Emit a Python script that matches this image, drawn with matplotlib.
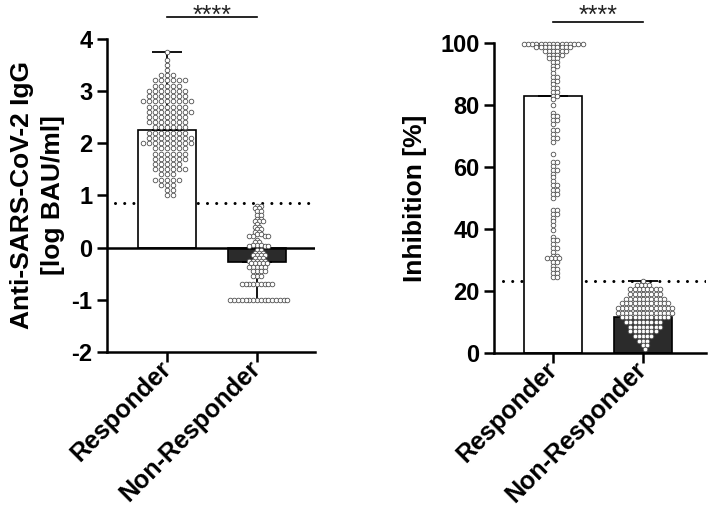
import matplotlib
matplotlib.use("Agg")
import matplotlib.pyplot as plt
import numpy as np

plt.rcParams['font.family'] = ['Liberation Sans', 'DejaVu Sans']
plt.rcParams['axes.unicode_minus'] = False

groups = ["Responder", "Non-Responder"]

# left panel - anti-SARS-CoV-2 IgG [log BAU/ml]
igg_resp = [3.75, 3.60, 3.50, 3.40,
            3.30, 3.30, 3.30,
            3.20, 3.20, 3.20, 3.20, 3.20, 3.20,
            3.10, 3.10, 3.10, 3.10, 3.10,
            3.00, 3.00, 3.00, 3.00, 3.00, 3.00, 3.00,
            2.90, 2.90, 2.90, 2.90, 2.90, 2.90, 2.90,
            2.80, 2.80, 2.80, 2.80, 2.80, 2.80, 2.80, 2.80, 2.80,
            2.70, 2.70, 2.70, 2.70, 2.70, 2.70, 2.70,
            2.60, 2.60, 2.60, 2.60, 2.60, 2.60, 2.60, 2.60,
            2.50, 2.50, 2.50, 2.50, 2.50, 2.50, 2.50,
            2.40, 2.40, 2.40, 2.40, 2.40, 2.40, 2.40,
            2.30, 2.30, 2.30, 2.30, 2.30, 2.30,
            2.20, 2.20, 2.20, 2.20, 2.20, 2.20, 2.20,
            2.10, 2.10, 2.10, 2.10, 2.10, 2.10, 2.10, 2.10,
            2.00, 2.00, 2.00, 2.00, 2.00, 2.00, 2.00, 2.00, 2.00,
            1.90, 1.90, 1.90, 1.90, 1.90, 1.90,
            1.80, 1.80, 1.80, 1.80, 1.80, 1.80,
            1.70, 1.70, 1.70, 1.70, 1.70, 1.70,
            1.60, 1.60, 1.60, 1.60, 1.60,
            1.50, 1.50, 1.50, 1.50, 1.50, 1.50,
            1.40, 1.40, 1.40,
            1.30, 1.30, 1.30, 1.30, 1.30,
            1.20, 1.20, 1.20,
            1.10, 1.10,
            1.00, 1.00]
igg_nonresp = [0.80, 0.80, 0.75, 0.75, 0.70, 0.70, 0.62, 0.62, 0.55, 0.55,
               0.50, 0.50, 0.50, 0.45, 0.40, 0.40, 0.35, 0.35, 0.30, 0.30,
               0.25, 0.25, 0.22, 0.22, 0.22, 0.22, 0.15, 0.10, 0.10,
               0.05, 0.05, 0.05, 0.02, 0.02, 0.02,
               -0.05, -0.05, -0.10, -0.10, -0.10, -0.15, -0.15, -0.15, -0.15,
               -0.20, -0.20, -0.20, -0.25, -0.25, -0.25, -0.25, -0.25,
               -0.30, -0.30, -0.30, -0.30, -0.30,
               -0.38, -0.38, -0.38, -0.38, -0.38,
               -0.45, -0.45, -0.45, -0.45, -0.55, -0.55, -0.55,
               -0.70, -0.70, -0.70, -0.70, -0.70, -0.70, -0.70, -0.70, -0.70,
               -1.00, -1.00, -1.00, -1.00, -1.00, -1.00, -1.00, -1.00,
               -1.00, -1.00, -1.00, -1.00, -1.00, -1.00, -1.00, -1.00]
igg_bars = [2.25, -0.27]
igg_cutoff = 0.86

# right panel - inhibition [%]
inh_resp = [99.7, 99.7, 99.7, 99.7, 99.7, 99.7, 99.7, 99.7, 99.7, 99.7,
            99.7, 99.7, 99.7, 99.7, 99.7,
            98.5, 98.5, 98.5, 98.5, 98.5, 98.5, 98.5, 98.5, 98.5,
            97.3, 97.3, 97.3, 97.3, 97.3, 97.3,
            96.1, 96.1, 96.1, 96.1, 95.0, 95.0, 95.0,
            93.8, 93.8, 92.6, 92.6, 91.4, 90.2, 89.0, 89.0, 87.8, 87.8,
            86.6, 85.4, 85.4, 84.2, 84.2, 83.0, 83.0, 81.8, 80.0,
            77.5, 76.3, 76.3, 75.0, 75.0, 73.8, 72.0, 72.0, 70.5,
            69.3, 69.3, 68.0, 64.0, 61.5, 61.5, 60.3, 59.0, 59.0,
            57.8, 56.6, 55.4, 54.0, 54.0, 52.5, 52.5, 51.3, 51.3, 50.0,
            46.0, 46.0, 44.8, 44.8, 43.6, 42.4, 41.2, 39.5, 37.5,
            36.3, 36.3, 35.0, 33.8, 33.8, 32.6, 31.4, 31.4,
            30.5, 30.5, 30.5, 30.5, 29.3, 29.3, 28.1, 27.0, 27.0,
            25.8, 25.8, 24.5, 24.5]
inh_nonresp = [23.2,
               22.0, 22.0, 22.0, 22.0,
               20.5, 20.5, 20.5, 20.5, 20.5, 20.5, 20.5, 20.5,
               19.0, 19.0, 19.0, 19.0, 19.0, 19.0, 19.0, 19.0,
               17.5, 17.5, 17.5, 17.5, 17.5, 17.5, 17.5, 17.5, 17.5, 17.5,
               16.0, 16.0, 16.0, 16.0, 16.0, 16.0, 16.0, 16.0, 16.0, 16.0, 16.0, 16.0,
               14.5, 14.5, 14.5, 14.5, 14.5, 14.5, 14.5, 14.5, 14.5, 14.5, 14.5, 14.5,
               14.5, 14.5,
               13.0, 13.0, 13.0, 13.0, 13.0, 13.0, 13.0, 13.0, 13.0, 13.0, 13.0, 13.0,
               13.0, 13.0,
               11.5, 11.5, 11.5, 11.5, 11.5, 11.5, 11.5, 11.5, 11.5, 11.5, 11.5, 11.5,
               10.0, 10.0, 10.0, 10.0, 10.0, 10.0, 10.0, 10.0, 10.0,
               8.5, 8.5, 8.5, 8.5, 8.5, 8.5, 8.5, 8.5,
               7.0, 7.0, 7.0, 7.0, 7.0, 7.0, 7.0,
               5.5, 5.5, 5.5, 5.5, 5.5,
               4.0, 4.0, 4.0,
               2.5, 2.5,
               1.2]
inh_bars = [82.7, 11.7]
inh_cutoff = 23.2


def swarm(ax, xpos, vals, sx, sy):
    # simple beeswarm in pixel space, then back to data coords
    vals = np.asarray(vals, dtype=float)
    pts = ax.transData.transform(np.column_stack([np.full(len(vals), xpos), vals]))
    order = np.argsort(-vals)
    steps = [0]
    for k in range(1, 80):
        steps += [k, -k]
    placed = []
    off = np.zeros(len(vals))
    for i in order:
        y = pts[i, 1]
        near = [(px, py) for px, py in placed if abs(py - y) < sy]
        for k in steps:
            dx = k * sx / 2
            if all(((dx - px) / sx) ** 2 + ((y - py) / sy) ** 2 >= 0.999 for px, py in near):
                break
        placed.append((dx, y))
        off[i] = dx
    pts[:, 0] += off
    return ax.transData.inverted().transform(pts)


fig = plt.figure(figsize=(7.08, 5.16), dpi=100)
ax1 = fig.add_axes([0.151, 0.318, 0.294, 0.607])
ax2 = fig.add_axes([0.698, 0.316, 0.299, 0.601])

ax1.set_xlim(-0.667, 1.644)
ax1.set_ylim(-2, 4)
ax2.set_xlim(-0.656, 1.70)
ax2.set_ylim(0, 100)

bar_w = 0.644
colors = ['white', '#2b2b2b']

panels = [
    (ax1, igg_resp, igg_nonresp, igg_bars, igg_cutoff, [(6.0, 4.2), (3.8, 2.8)], 1.051),
    (ax2, inh_resp, inh_nonresp, inh_bars, inh_cutoff, [(4.2, 3.2), (4.2, 4.2)], 1.065),
]

for ax, resp, nonresp, bars, cutoff, spacing, star_y in panels:
    ax.axhline(cutoff, xmin=0.04, xmax=1, color='black', lw=2.2,
               linestyle=(0, (0.01, 3.0)), dash_capstyle='round', zorder=1)
    ax.bar([0, 1], bars, width=bar_w, color=colors, edgecolor='black',
           linewidth=1.2, zorder=2)
    for i, (vals, (sx, sy)) in enumerate(zip([resp, nonresp], spacing)):
        if bars[i] >= 0:
            yerr = [[0], [max(vals) - bars[i]]]
        else:
            yerr = [[bars[i] - min(vals)], [0]]
        ax.errorbar(i, bars[i], yerr=yerr, fmt='none', ecolor='black',
                    elinewidth=1.3, capsize=10.8, capthick=1.3, zorder=3)
        xy = swarm(ax, i, vals, sx, sy)
        ax.scatter(xy[:, 0], xy[:, 1], s=11, facecolor='white',
                   edgecolor='#505050', linewidths=0.6, zorder=5, clip_on=False)

    for side in ['top', 'right']:
        ax.spines[side].set_visible(False)
    for side in ['left', 'bottom']:
        ax.spines[side].set_linewidth(1.8)
    ax.tick_params(width=1.8, length=7.5, labelsize=17, pad=3)
    ax.set_xticks([0, 1])
    ax.set_xticklabels(groups, rotation=45, ha='right', va='center',
                       rotation_mode='anchor', fontweight='bold', fontsize=18)
    ax.tick_params(axis='x', pad=2)
    for lab in ax.get_yticklabels():
        lab.set_fontweight('bold')

    # significance bracket
    tr = ax.get_xaxis_transform()
    ax.plot([0, 1], [1.068, 1.068], transform=tr, color='black', lw=1.2, clip_on=False)
    ax.text(0.5, star_y, "****", transform=tr, ha='center', va='baseline',
            fontsize=18, color='#222222')

ax1.axhline(0, color='black', lw=1.8, zorder=3)
ax1.set_yticks(range(-2, 5))
ax2.set_yticks(range(0, 101, 20))

ax1.set_ylabel("Anti-SARS-CoV-2 IgG\n[log BAU/ml]", fontsize=19,
               fontweight='bold', linespacing=1.4)
ax1.yaxis.set_label_coords(-0.20, 0.5)
ax2.set_ylabel("Inhibition [%]", fontsize=19, fontweight='bold')
ax2.yaxis.set_label_coords(-0.316, 0.5)

fig.savefig("out.png", dpi=100)
